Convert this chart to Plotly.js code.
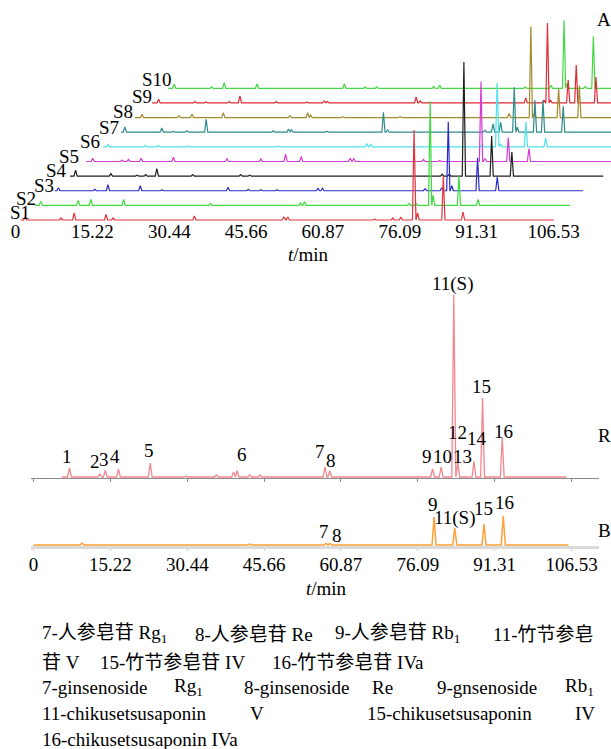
<!DOCTYPE html>
<html>
<head>
<meta charset="utf-8">
<script src="https://cdn.plot.ly/plotly-3.0.1.min.js"></script>
<style>
html,body{margin:0;padding:0;background:#ffffff;}
#chart{width:611px;height:749px;}
</style>
</head>
<body>
<div id="chart"></div>
<script>
// ================= DATA =================
const tickValues = [0, 15.22, 30.44, 45.66, 60.87, 76.09, 91.31, 106.53];
const tickLabels = ["0", "15.22", "30.44", "45.66", "60.87", "76.09", "91.31", "106.53"];
const axisTitle = "<i>t</i>/min";

const sampleNames = ["S1", "S2", "S3", "S4", "S5", "S6", "S7", "S8", "S9", "S10"];
const sampleStart = [1.0, 0.55, 1.15, 0.9, 0.8, 0.9, 1.15, 0.6, 0.7, 0.6];
const sampleEnd = [106.6, 106.5, 105.8, 106.5, 106.5, 106.5, 106.5, 106.5, 106.5, 106.5];

// peak retention times (min) and peak heights (response, arbitrary units)
const s1Times   = [1.9, 9.0, 11.6, 17.9, 19.3, 35.4, 53.1, 53.9, 71.1, 74.7, 76.3, 78.9, 79.6, 84.7, 88.6];
const s1Heights = [3.3, 2, 7, 5.5, 2, 4, 3, 3, 1, 2, 3, 90, 7, 44, 8];
const s2Times   = [1.7, 9.1, 11.6, 18.1, 35.3, 53.1, 53.9, 74.6, 76.0, 78.8, 79.4, 84.5, 88.3];
const s2Heights = [4, 5, 6, 6, 2, 2.5, 3.5, 2, 2, 104, 10, 29, 6];
const s3Times   = [1.9, 9.1, 11.7, 18.1, 22.4, 35.5, 39.5, 42.0, 45.2, 53.3, 54.2, 74.5, 77.8, 79.1, 79.8, 84.9, 88.8];
const s3Heights = [3, 1.5, 6, 5, 1, 3.5, 1.5, 1, 1, 2.5, 2.5, 2, 3, 69, 5, 33, 13.6];
const s4Times   = [2.0, 9.0, 14.2, 15.9, 18.1, 25.2, 34.7, 36.5, 74.6, 76.0, 78.9, 84.4, 88.4];
const s4Heights = [6, 2.5, 1, 1.5, 7.5, 1.5, 1.5, 1, 2, 2, 114, 40, 24];
const s5Times   = [2.1, 7.9, 9.2, 11.7, 18.1, 28.7, 35.4, 40.3, 43.4, 53.1, 53.8, 67.6, 70.8, 79.0, 79.8, 84.4, 88.5];
const s5Heights = [3.3, 1.5, 2, 3.3, 4.3, 2.7, 2.5, 7.3, 5, 3.3, 2.7, 2, 1, 80, 3, 24, 13];
const s6Times   = [1.9, 9.2, 11.8, 17.8, 35.5, 53.1, 53.9, 75.9, 78.9, 79.6, 84.6, 88.5];
const s6Heights = [2.3, 1.5, 1.5, 1, 0.8, 3.3, 2.7, 2, 64, 3, 25, 9];
const s7Times   = [1.9, 9.2, 11.5, 14.2, 18.0, 31.3, 34.3, 34.9, 41.9, 53.1, 53.9, 73.2, 74.8, 76.3, 79.0, 79.6, 83.1, 84.7, 88.7];
const s7Heights = [5.3, 4.3, 1, 1.5, 13, 1.5, 3.3, 2.5, 1, 20, 2.3, 2, 8.4, 10, 45, 5, 32, 32, 26];
const s8Times   = [2.0, 9.3, 11.9, 18.1, 31.3, 34.8, 35.4, 41.8, 53.1, 74.7, 79.0, 79.7, 84.5, 88.6];
const s8Heights = [3.3, 2, 3.3, 5, 2, 5, 2.5, 1, 1, 4, 91, 4, 29, 32];
const s9Times   = [2.0, 9.2, 11.4, 16.0, 18.1, 25.3, 31.3, 34.8, 35.4, 53.0, 53.8, 74.7, 78.3, 79.0, 79.6, 83.1, 84.7, 88.6];
const s9Heights = [3.7, 1.5, 1, 1.5, 7, 1.5, 1, 2, 1.5, 6, 2, 5, 3, 80, 3, 23, 38, 26];
const s10Times  = [1.8, 9.2, 11.7, 18.2, 35.5, 39.6, 41.9, 53.2, 54.4, 71.3, 76.4, 79.0, 79.6, 83.2, 84.8];
const s10Heights= [4, 1.5, 5.7, 4.3, 4.3, 1.5, 1.5, 2, 3, 1.5, 3, 68, 5, 2, 52];

// reference (R) and blank/standard (B) chromatograms
const refStart = 5.6, refEnd = 105.5;
const refTimes   = [7.1, 13.1, 14.2, 16.8, 23.1, 30.1, 36.2, 39.6, 40.3, 42.8, 44.8, 57.7, 58.65, 79.0, 80.7, 83.2, 84.0, 87.2, 88.9, 92.8];
const refHeights = [9, 3, 6.5, 8, 14, 1, 2, 5, 6.5, 2, 2, 10, 6, 8, 10, 182, 14, 15.6, 79, 39];
const stdStart = 0, stdEnd = 105.9;
const stdTimes   = [9.6, 42.8, 57.9, 58.65, 79.3, 83.4, 89.2, 93.0];
const stdHeights = [2, 1, 1.5, 1.5, 28, 17, 21, 29];

const refPeakLabels = ["1", "2", "3", "4", "5", "6", "7", "8", "9", "10", "11(S)", "12", "13", "14", "15", "16"];
const stdPeakLabels = ["7", "8", "9", "11(S)", "15", "16"];
const panelLabels = ["A", "R", "B"];

const captionLines = [
  ["7-人参皂苷 Rg<sub>1</sub>", "8-人参皂苷 Re", "9-人参皂苷 Rb<sub>1</sub>", "11-竹节参皂"],
  ["苷 V", "15-竹节参皂苷 IV", "16-竹节参皂苷 IVa"],
  ["7-ginsenoside", "Rg<sub>1</sub>", "8-ginsenoside", "Re", "9-gnsenoside", "Rb<sub>1</sub>"],
  ["11-chikusetsusaponin", "V", "15-chikusetsusaponin", "IV"],
  ["16-chikusetsusaponin IVa"]
];

// ================= STYLE / LAYOUT =================
const W = 611, H = 749;
const px = v => v / W;
const py = v => 1 - v / H;
const SERIF = '"Liberation Serif", "Times New Roman", "Noto Sans CJK SC", serif';
const sampleColors = ["#e3343a", "#3ddb3d", "#2b2bcc", "#1e1e1e", "#d63ad6", "#4fe3ea", "#2f8a8c", "#a08b2e", "#e02a35", "#45d845"];
const shiftT = 3.29;   // waterfall offset in time per sample
const shiftY = 14.63;  // waterfall vertical offset per sample
const halfWidth = 0.32;

function chromLine(start, end, times, heights, hw) {
  const xs = [start], ys = [0];
  for (let k = 0; k < times.length; k++) {
    const a = times[k] - hw;
    if (a > xs[xs.length - 1]) { xs.push(a); ys.push(0); }
    xs.push(times[k]); ys.push(heights[k]);
    xs.push(times[k] + hw); ys.push(0);
  }
  xs.push(end); ys.push(0);
  return {xs, ys};
}

const sampleTimes = [s1Times, s2Times, s3Times, s4Times, s5Times, s6Times, s7Times, s8Times, s9Times, s10Times];
const sampleHeights = [s1Heights, s2Heights, s3Heights, s4Heights, s5Heights, s6Heights, s7Heights, s8Heights, s9Heights, s10Heights];

const traces = [];
for (let i = sampleNames.length - 1; i >= 0; i--) {
  const c = chromLine(sampleStart[i], sampleEnd[i], sampleTimes[i], sampleHeights[i], halfWidth);
  traces.push({
    type: 'scatter', mode: 'lines', name: sampleNames[i],
    x: c.xs.map(v => v + i * shiftT),
    y: c.ys.map(v => v + i * shiftY),
    xaxis: 'x', yaxis: 'y',
    line: {color: sampleColors[i], width: 1.2},
    hoverinfo: 'skip', showlegend: false
  });
}
const rc = chromLine(refStart, refEnd, refTimes, refHeights, 0.38);
traces.push({type: 'scatter', mode: 'lines', name: 'R', x: rc.xs, y: rc.ys, xaxis: 'x2', yaxis: 'y2',
  line: {color: '#f4868d', width: 1.3}, hoverinfo: 'skip', showlegend: false});
const bc = chromLine(stdStart, stdEnd, stdTimes, stdHeights, 0.4);
traces.push({type: 'scatter', mode: 'lines', name: 'B', x: bc.xs, y: bc.ys, xaxis: 'x3', yaxis: 'y3',
  line: {color: '#ffa136', width: 1.5}, hoverinfo: 'skip', showlegend: false});

// annotations
const ann = [];
function addText(text, x, y, opts) {
  ann.push(Object.assign({text: text, xref: 'paper', yref: 'paper', x: px(x), y: py(y),
    xanchor: 'center', yanchor: 'middle', showarrow: false,
    font: {family: SERIF, size: 19, color: '#000'}}, opts || {}));
}
const sLabelPos = [[19.5, 212.5], [25.5, 198], [43.8, 186], [56.7, 170.5], [68.8, 156], [90, 141.3], [108.8, 127], [122.5, 111.7], [142.2, 96.7], [156.7, 80]];
sampleNames.forEach((n, i) => addText(n, sLabelPos[i][0], sLabelPos[i][1]));

const refLabelPos = [[67, 456.7], [94.6, 461.7], [104.3, 459], [115, 456], [149.2, 450], [242.4, 454], [320, 451.7], [330.6, 460.7],
  [427.4, 456], [442, 456], [453, 283.8], [457, 432], [462, 456.7], [476.5, 438.5], [481.5, 386], [503, 431]];
refPeakLabels.forEach((n, i) => addText(n, refLabelPos[i][0], refLabelPos[i][1]));
const stdLabelPos = [[324, 531.7], [336.5, 535], [433, 504], [455, 518], [483, 508], [504.5, 503]];
stdPeakLabels.forEach((n, i) => addText(n, stdLabelPos[i][0], stdLabelPos[i][1]));
const panelLabelPos = [[604, 20], [604, 435.5], [604, 530]];
panelLabels.forEach((n, i) => addText(n, panelLabelPos[i][0], panelLabelPos[i][1]));

// axis titles
addText(axisTitle, 308, 255);
addText(axisTitle, 326, 588);

// caption: [x, anchor] per segment
const captionPos = [
  [[40, 'left'], [192.7, 'left'], [333, 'left'], [596, 'right']],
  [[40, 'left'], [98, 'left'], [270, 'left']],
  [[40, 'left'], [171.7, 'left'], [241.7, 'left'], [370, 'left'], [435, 'left'], [596, 'right']],
  [[40, 'left'], [248.3, 'left'], [365, 'left'], [597, 'right']],
  [[40, 'left']]
];
const captionY = [634, 662, 687, 713.5, 739];
captionLines.forEach((line, r) => line.forEach((seg, k) =>
  addText(seg, captionPos[r][k][0], captionY[r], {xanchor: captionPos[r][k][1]})));

const xB = {domain: [31 / W, 599 / W], range: [(31 - 33.6) / 5.05, (599 - 33.6) / 5.05]};

const layout = {
  width: W, height: H,
  margin: {l: 0, r: 0, t: 0, b: 0, pad: 0},
  paper_bgcolor: '#ffffff', plot_bgcolor: 'rgba(0,0,0,0)',
  showlegend: false,
  font: {family: SERIF, size: 19, color: '#000'},
  xaxis: {
    domain: [0, 1], range: [-15.6 / 5.05, (W - 15.6) / 5.05], anchor: 'y',
    tickmode: 'array', tickvals: tickValues, ticktext: tickLabels, ticks: '',
    ticklabelstandoff: -4,
    showline: false, showgrid: false, zeroline: false,
    tickfont: {family: SERIF, size: 19, color: '#000'},
    fixedrange: true
  },
  yaxis: {domain: [py(222), 1], range: [-2, 220], visible: false, fixedrange: true},
  xaxis2: {
    domain: xB.domain, range: xB.range, anchor: 'y2',
    tickmode: 'array', tickvals: tickValues, showticklabels: false,
    ticks: 'outside', ticklen: 3, tickcolor: '#8a8a8a', tickwidth: 1,
    showline: true, linecolor: '#8a8a8a', linewidth: 1,
    showgrid: false, zeroline: false, fixedrange: true
  },
  yaxis2: {domain: [py(478), py(265)], range: [-1, 212], visible: false, fixedrange: true},
  xaxis3: {
    domain: xB.domain, range: xB.range, anchor: 'y3',
    tickmode: 'array', tickvals: tickValues, ticktext: tickLabels,
    ticks: 'outside', ticklen: 2, tickcolor: '#cfcfcf',
    ticklabelstandoff: -3,
    showline: true, linecolor: '#dadada', linewidth: 3,
    showgrid: false, zeroline: false,
    tickfont: {family: SERIF, size: 19, color: '#000'},
    fixedrange: true
  },
  yaxis3: {domain: [py(546), py(485)], range: [-1, 60], visible: false, fixedrange: true},
  annotations: ann
};

Plotly.newPlot('chart', traces, layout, {staticPlot: true, displayModeBar: false});
</script>
</body>
</html>
